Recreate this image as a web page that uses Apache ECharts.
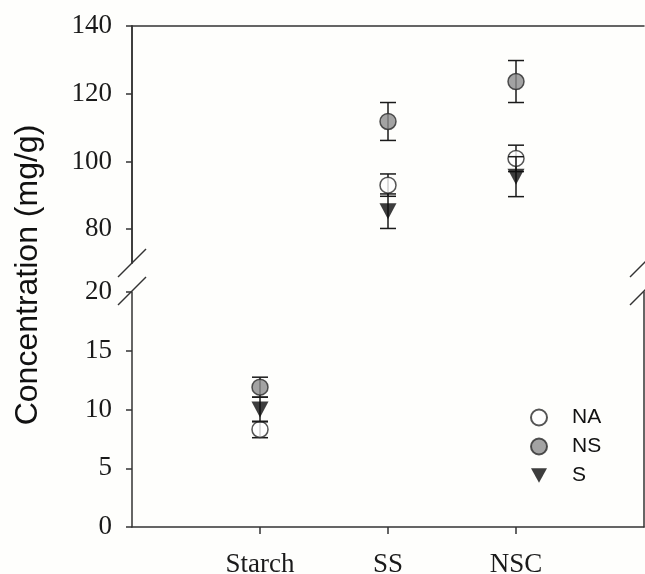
<!DOCTYPE html>
<html>
<head>
<meta charset="utf-8">
<script src="https://cdn.jsdelivr.net/npm/echarts@6/dist/echarts.min.js"></script>
<style>
  html, body { margin: 0; padding: 0; background: #fefefc; }
  #chart { width: 645px; height: 574px; }
</style>
</head>
<body>
<div id="chart"></div>
<script>
//data
let categories = ['Starch', 'SS', 'NSC'];
let groups = ['NA', 'NS', 'S'];

let naMean = [8.3, 93.0, 100.9];
let naErr = [0.7, 3.3, 3.9];
let nsMean = [11.9, 111.8, 123.6];
let nsErr = [0.85, 5.6, 6.2];
let sMean = [10.0, 85.3, 95.5];
let sErr = [1.05, 5.1, 5.9];

let upperTicks = [80, 100, 120, 140];
let lowerMax = 20;

//look
let axisColor = '#333';
let serif = '"Liberation Serif", "Times New Roman", serif';
let sans = '"Liberation Sans", Arial, sans-serif';

let means = [naMean, nsMean, sMean];
let errs = [naErr, nsErr, sErr];
let symbols = ['circle', 'circle', 'path://M0,0 L10,0 L5,9 Z'];
let fills = ['#ffffff', '#8c8c8c', '#0d0d0d'];

//layout
let gLeft = 132, gRight = 644;
let upTop = 26, upH = 237;
let lowTop = 292, lowH = 235;

let chart = echarts.init(document.getElementById('chart'));

function errorBars(params, api) {
    let x = api.value(0), y = api.value(1), e = api.value(2);
    let top = api.coord([x, y + e]);
    let bot = api.coord([x, y - e]);
    let w = 8;
    let st = { stroke: '#1a1a1a', lineWidth: 1.5 };
    return {
        type: 'group',
        children: [
            { type: 'line', shape: { x1: top[0], y1: top[1], x2: bot[0], y2: bot[1] }, style: st },
            { type: 'line', shape: { x1: top[0] - w, y1: top[1], x2: top[0] + w, y2: top[1] }, style: st },
            { type: 'line', shape: { x1: bot[0] - w, y1: bot[1], x2: bot[0] + w, y2: bot[1] }, style: st }
        ]
    };
}

let series = [];
for (let g = 0; g < groups.length; g++) {
    let upPts = [], lowPts = [], upErr = [], lowErr = [];
    for (let i = 0; i < categories.length; i++) {
        let v = means[g][i];
        if (v < lowerMax) {
            lowPts.push([i + 1, v]);
            lowErr.push([i + 1, v, errs[g][i]]);
        } else {
            upPts.push([i + 1, v]);
            upErr.push([i + 1, v, errs[g][i]]);
        }
    }
    let sym = {
        symbol: symbols[g],
        symbolSize: g == 2 ? [17, 16] : 16,
        itemStyle: { color: fills[g], borderColor: g == 2 ? '#0d0d0d' : '#2a2a2a', borderWidth: g == 2 ? 0 : 1.5 }
    };
    series.push({ name: groups[g] + ' err', type: 'custom', xAxisIndex: 0, yAxisIndex: 0, z: 2 + 2 * g, renderItem: errorBars, data: upErr, silent: true });
    series.push({ name: groups[g] + ' err', type: 'custom', xAxisIndex: 2, yAxisIndex: 2, z: 2 + 2 * g, renderItem: errorBars, data: lowErr, silent: true });
    series.push(Object.assign({ name: groups[g], type: 'scatter', xAxisIndex: 0, yAxisIndex: 0, z: 3 + 2 * g, data: upPts }, sym));
    series.push(Object.assign({ name: groups[g], type: 'scatter', xAxisIndex: 2, yAxisIndex: 2, z: 3 + 2 * g, data: lowPts }, sym));
}

let lineOnly = {
    axisLine: { show: true, lineStyle: { color: axisColor, width: 1.5 } },
    axisTick: { show: false },
    axisLabel: { show: false },
    splitLine: { show: false }
};

//break marks
let breaks = [];
[gLeft, gRight].forEach(function (bx) {
    [upTop + upH, lowTop - 1].forEach(function (by) {
        breaks.push({
            type: 'line',
            shape: { x1: bx - 14, y1: by + 14, x2: bx + 14, y2: by - 14 },
            style: { stroke: axisColor, lineWidth: 1.5 }
        });
    });
});

let option = {
    animation: false,
    backgroundColor: '#fefefc',
    grid: [
        { left: gLeft, width: gRight - gLeft, top: upTop, height: upH, outerBoundsMode: 'none', containLabel: false },
        { left: gLeft, width: gRight - gLeft, top: lowTop, height: lowH, outerBoundsMode: 'none', containLabel: false }
    ],
    xAxis: [
        { gridIndex: 0, type: 'value', min: 0, max: 4, show: false },
        Object.assign({ gridIndex: 0, type: 'value', min: 0, max: 4, position: 'top' }, lineOnly),
        {
            gridIndex: 1, type: 'value', min: 0, max: 4, position: 'bottom',
            axisLine: { show: true, lineStyle: { color: axisColor, width: 1.5 } },
            axisTick: { show: true, customValues: [1, 2, 3], length: 7, lineStyle: { color: axisColor, width: 1.5 } },
            axisLabel: {
                customValues: [1, 2, 3], margin: 24,
                formatter: function (v) { return categories[Math.round(v) - 1]; },
                fontFamily: serif, fontSize: 27, color: '#1a1a1a'
            },
            splitLine: { show: false }
        }
    ],
    yAxis: [
        {
            gridIndex: 0, type: 'value', min: 70, max: 140, position: 'left',
            axisLine: { show: true, lineStyle: { color: axisColor, width: 1.5 } },
            axisTick: { show: true, customValues: upperTicks, length: 6, lineStyle: { color: axisColor, width: 1.5 } },
            axisLabel: { customValues: upperTicks, margin: 20, fontFamily: serif, fontSize: 27, color: '#1a1a1a' },
            splitLine: { show: false }
        },
        Object.assign({ gridIndex: 0, type: 'value', min: 70, max: 140, position: 'right' }, lineOnly),
        {
            gridIndex: 1, type: 'value', min: 0, max: lowerMax, interval: 5, position: 'left',
            axisLine: { show: true, lineStyle: { color: axisColor, width: 1.5 } },
            axisTick: { show: true, length: 6, lineStyle: { color: axisColor, width: 1.5 } },
            axisLabel: { margin: 20, fontFamily: serif, fontSize: 27, color: '#1a1a1a' },
            splitLine: { show: false }
        },
        Object.assign({ gridIndex: 1, type: 'value', min: 0, max: lowerMax, position: 'right' }, lineOnly)
    ],
    legend: {
        data: groups,
        orient: 'vertical',
        left: 525, top: 402,
        itemWidth: 16, itemHeight: 16, itemGap: 8,
        textStyle: { fontFamily: sans, fontSize: 21, color: '#111', padding: [0, 0, 0, 20] }
    },
    graphic: breaks.concat([{
        type: 'text',
        x: 28, y: 275,
        rotation: Math.PI / 2,
        style: {
            text: 'Concentration (mg/g)',
            fontFamily: sans, fontSize: 32, fill: '#111',
            align: 'center', verticalAlign: 'middle'
        }
    }]),
    series: series
};

chart.setOption(option);
</script>
</body>
</html>
